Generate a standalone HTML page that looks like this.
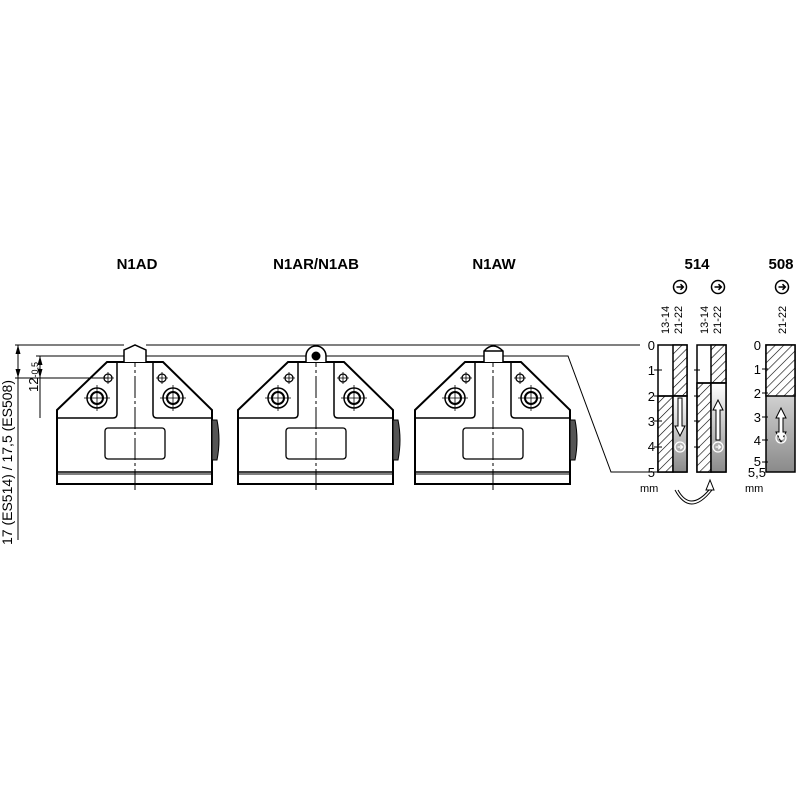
<!DOCTYPE html>
<html><head><style>body{margin:0;background:#fff}svg{display:block}text{font-family:"Liberation Sans",sans-serif}</style></head>
<body>
<svg width="800" height="800" viewBox="0 0 800 800" xmlns="http://www.w3.org/2000/svg">
<defs>
<linearGradient id="g" x1="0" y1="0" x2="0" y2="1"><stop offset="0" stop-color="#fff"/><stop offset="1" stop-color="#8a8a8a"/></linearGradient>
<pattern id="h" width="6" height="6" patternUnits="userSpaceOnUse" patternTransform="rotate(45)"><rect width="6" height="6" fill="#fff"/><line x1="0" y1="0" x2="0" y2="6" stroke="#000" stroke-width="1.2"/></pattern>
<g id="dev" fill="none" stroke="#000">
<path d="M57,410 L107,362 L163,362 L212,410 L212,484 L57,484 Z" stroke-width="2"/>
<path d="M117,362 L117,414 Q117,418 113,418 L57,418 M153,362 L153,414 Q153,418 157,418 L212,418" stroke-width="1.5"/>
<line x1="57" y1="472" x2="212" y2="472" stroke-width="1.5"/><line x1="57" y1="474" x2="212" y2="474" stroke-width="1"/>
<rect x="105" y="428" width="60" height="31" rx="3" stroke-width="1.3"/>
<path d="M212,420 h5 q4,20 0,40 h-5 z" fill="#555" stroke-width="1"/>
<circle cx="97" cy="398" r="10" stroke-width="1.5"/><circle cx="97" cy="398" r="6" stroke-width="2"/>
<circle cx="173" cy="398" r="10" stroke-width="1.5"/><circle cx="173" cy="398" r="6" stroke-width="2"/>
<circle cx="108" cy="378" r="4" stroke-width="1.3"/><circle cx="162" cy="378" r="4" stroke-width="1.3"/>
<path d="M84,398h26M97,385v26M160,398h26M173,385v26M102,378h12M108,372v12M156,378h12M162,372v12" stroke-width="0.8"/>
<line x1="135" y1="345" x2="135" y2="490" stroke-width="1" stroke-dasharray="22,3,3,3"/>
</g>
<g id="ci" fill="none" stroke="#000" stroke-width="1.5">
<circle r="6.5"/><path d="M-3.5,0 H3 M0.5,-2.8 L3.3,0 L0.5,2.8"/>
</g>
<g id="cw" fill="none" stroke="#fff" stroke-width="1.3">
<circle r="5"/><path d="M-2.5,0 H2.3 M0.3,-2.2 L2.5,0 L0.3,2.2"/>
</g>
</defs>
<g font-weight="bold" font-size="15" text-anchor="middle">
<text x="137" y="269">N1AD</text><text x="316" y="269">N1AR/N1AB</text><text x="494" y="269">N1AW</text>
<text x="697" y="269">514</text><text x="781" y="269">508</text></g>
<use href="#ci" x="680" y="287"/><use href="#ci" x="718" y="287"/><use href="#ci" x="782" y="287"/>
<g font-size="11">
<text transform="translate(669,334) rotate(-90)">13-14</text><text transform="translate(682,334) rotate(-90)">21-22</text>
<text transform="translate(708,334) rotate(-90)">13-14</text><text transform="translate(721,334) rotate(-90)">21-22</text>
<text transform="translate(786,334) rotate(-90)">21-22</text>
</g>
<use href="#dev"/>
<use href="#dev" x="181"/>
<use href="#dev" x="358"/>
<path d="M124,362 V350 L135,345 L146,350 V362" fill="#fff" stroke="#000" stroke-width="1.5"/>
<path d="M306,362 V356 A10,10 0 0 1 326,356 V362" fill="#fff" stroke="#000" stroke-width="1.5"/>
<circle cx="316" cy="356" r="4.5" fill="#000"/>
<path d="M484,362 V351 Q493,341 503,351 V362 M484,351 H503" fill="#fff" stroke="#000" stroke-width="1.5"/>
<g stroke="#000" stroke-width="1" fill="none">
<line x1="15" y1="345" x2="124" y2="345"/><line x1="146" y1="345" x2="640" y2="345"/>
<line x1="36" y1="356" x2="124" y2="356"/><line x1="146" y1="356" x2="306" y2="356"/><line x1="326" y1="356" x2="484" y2="356"/>
<polyline points="503,356 568,356 611,472 640,472"/>
<line x1="15" y1="378" x2="108" y2="378"/>
<line x1="18" y1="345" x2="18" y2="540"/>
<line x1="40" y1="356" x2="40" y2="418"/>
</g>
<g fill="#000"><path d="M18,345 l-2.5,9 h5z M18,378 l-2.5,-9 h5z M40,356 l-2.5,9 h5z M40,378 l-2.5,-9 h5z"/></g>
<text transform="translate(12,545) rotate(-90)" font-size="14">17 (ES514) / 17,5 (ES508)</text>
<text transform="translate(38,392) rotate(-90)" font-size="13">12<tspan font-size="9">-0,5</tspan></text>
<g stroke="#000" stroke-width="1.5">
<rect x="658" y="345" width="29" height="127" fill="#fff"/>
<rect x="673" y="345" width="14" height="51" fill="url(#h)"/>
<rect x="658" y="396" width="15" height="76" fill="url(#h)"/>
<rect x="673" y="396" width="14" height="76" fill="url(#g)"/>
<line x1="658" y1="396" x2="687" y2="396"/>
<rect x="697" y="345" width="29" height="127" fill="#fff"/>
<rect x="711" y="345" width="15" height="38" fill="url(#h)"/>
<rect x="697" y="383" width="14" height="89" fill="url(#h)"/>
<rect x="711" y="383" width="15" height="89" fill="url(#g)"/>
<line x1="697" y1="383" x2="726" y2="383"/>
<rect x="766" y="345" width="29" height="127" fill="url(#g)"/>
<rect x="766" y="345" width="29" height="51" fill="url(#h)"/>
</g>
<g stroke="#000" stroke-width="1">
<path d="M654,370h8M654,396h8M654,421h8M654,447h8M694,370h6M694,396h6M694,421h6M694,447h6M762,369h6M762,393h6M762,417h6M762,440h6M762,462h6"/>
<line x1="640" y1="472" x2="660" y2="472"/>
</g>
<g fill="#fff" stroke="#000" stroke-width="1">
<path d="M678,398 v28 h-3 l5,10 l5,-10 h-3 v-28 z"/>
<path d="M716,440 v-30 h-3 l5,-10 l5,10 h-3 v30 z"/>
<path d="M781,408 l-5,10 h3 v14 h-3 l5,10 l5,-10 h-3 v-14 h3 z"/>
</g>
<use href="#cw" x="680" y="447"/><use href="#cw" x="718" y="447"/><use href="#cw" x="781" y="438"/>
<g font-size="13" text-anchor="end">
<text x="655" y="350">0</text><text x="655" y="375">1</text><text x="655" y="401">2</text><text x="655" y="426">3</text><text x="655" y="451">4</text><text x="655" y="477">5</text>
<text x="761" y="350">0</text><text x="761" y="374">1</text><text x="761" y="398">2</text><text x="761" y="422">3</text><text x="761" y="445">4</text><text x="761" y="466">5</text><text x="766" y="477">5,5</text>
</g>
<g font-size="11"><text x="640" y="492">mm</text><text x="745" y="492">mm</text></g>
<path d="M675,490 Q690,518 712,490 M678,490 Q690,512 709,490" fill="none" stroke="#000" stroke-width="1"/>
<path d="M710,480 l-4,10 h8z" fill="#fff" stroke="#000" stroke-width="1"/>
</svg>
</body></html>
